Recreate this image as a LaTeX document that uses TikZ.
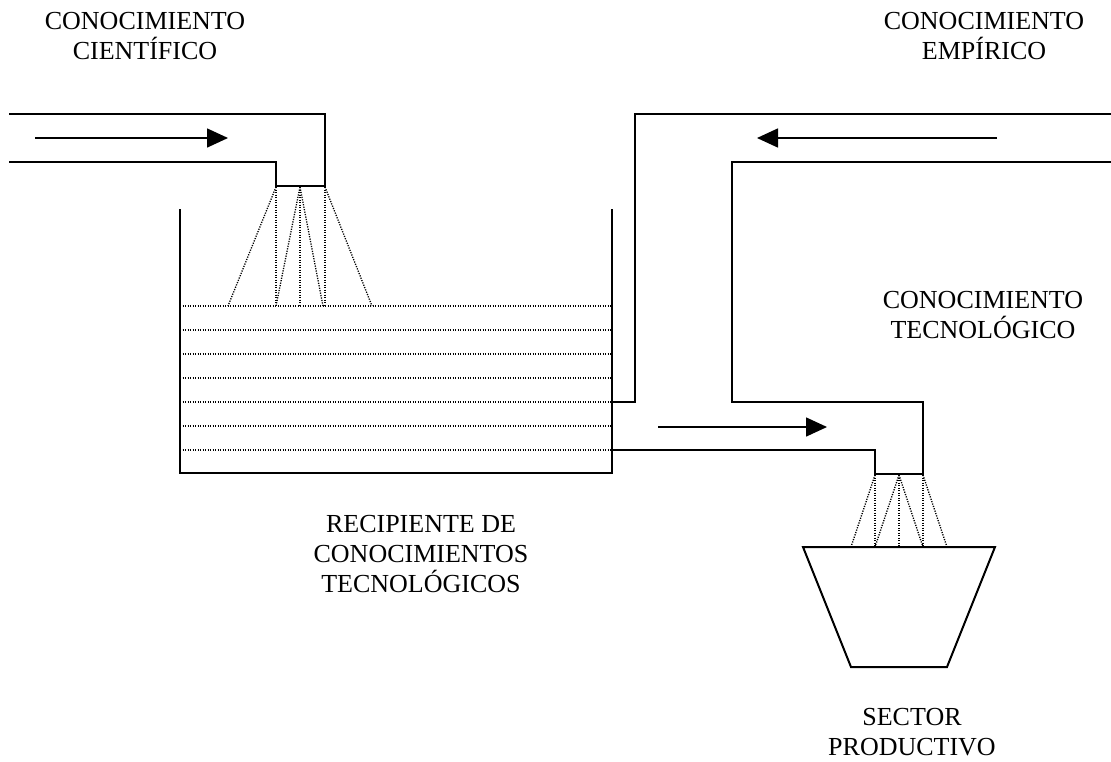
\documentclass[tikz,border=0pt]{standalone}
\usepackage{fontspec}
\setmainfont{Liberation Serif}
\usetikzlibrary{arrows.meta}
\tikzset{
  pipe/.style={line width=2pt, line join=miter, line cap=rect},
  wall/.style={line width=2.6pt, line cap=rect},
  spray/.style={line width=1.3pt, dash pattern=on 1.2pt off 1.3pt},
  level/.style={line width=1.1pt, dash pattern=on 1.1pt off 1.4pt},
  flow/.style={line width=1.6pt, -{Triangle[length=21pt,width=19pt]}},
  lbl/.style={align=center, inner sep=0pt, anchor=north, font=\fontsize{26}{30}\selectfont}
}
\begin{document}
\begin{tikzpicture}[x=1pt,y=-1pt]
\useasboundingbox (0,0) rectangle (1111,761);
% labels
\node[lbl] (cient) at (145,12.4) {CONOCIMIENTO\\CIENTÍFICO};
\node[lbl] (empir) at (984,12.4) {CONOCIMIENTO\\EMPÍRICO};
\node[lbl] (tecno) at (983,291.4) {CONOCIMIENTO\\TECNOLÓGICO};
\node[lbl] (recip) at (421,515.4) {RECIPIENTE DE\\CONOCIMIENTOS\\TECNOLÓGICOS};
\node[lbl] (sector) at (912,708.4) {SECTOR\\PRODUCTIVO};
% left inlet pipe
\draw[pipe] (10,114) -- (325,114) -- (325,186) -- (276,186) -- (276,162) -- (10,162);
\coordinate (a1s) at (35,138); \coordinate (a1e) at (228,138);
\draw[flow] (a1s) -- (a1e);
% spray from left nozzle
\foreach \s/\e in {276/228,276/276,300/276,300/300,300/323,325/325,325/372}
  \draw[spray] (\s,187) -- (\e,306);
% tank
\foreach \y in {306,330,354,378,402,426,450}
  \draw[level] (180,\y) -- (612,\y);
\draw[wall] (180,210) -- (180,473) -- (612,473) -- (612,210);
% right pipe (empirical inlet and outlet)
\draw[pipe] (612,402) -- (635,402) -- (635,114) -- (1111,114);
\draw[pipe] (1111,162) -- (732,162) -- (732,402) -- (923,402) -- (923,474) -- (875,474) -- (875,450) -- (612,450);
\coordinate (a2s) at (997,138); \coordinate (a2e) at (757,138);
\draw[flow] (a2s) -- (a2e);
\coordinate (a3s) at (658,427); \coordinate (a3e) at (827,427);
\draw[flow] (a3s) -- (a3e);
% spray from right nozzle
\foreach \s/\e in {875/851,875/875,899/875,899/899,899/923,923/923,923/947}
  \draw[spray] (\s,475) -- (\e,547);
% productive sector vessel
\draw[pipe, line join=miter] (803,547) -- (995,547) -- (947,667) -- (851,667) -- cycle;
\end{tikzpicture}
\end{document}
